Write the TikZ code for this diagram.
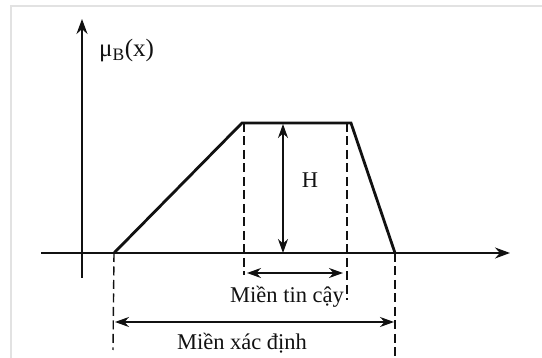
\documentclass[tikz,border=0pt]{standalone}
\usepackage{fontspec}
\setmainfont{Liberation Serif}
\usepackage{tikz}
\usetikzlibrary{arrows.meta}
\definecolor{FInk}{HTML}{111111}
\definecolor{FFrame}{HTML}{E2E2E2}

\begin{document}
\begin{tikzpicture}[x=1pt, y=-1pt,
  axis/.style={FInk, line width=1.8pt, -{Stealth[length=15pt,width=11pt]}},
  curve/.style={FInk, line width=2.8pt, line join=miter},
  guide/.style={FInk, line width=1.4pt, dash pattern=on 9pt off 4.5pt},
  span/.style={FInk, line width=1.6pt, {Stealth[length=14pt,width=10pt]}-{Stealth[length=14pt,width=10pt]}},
  lbl/.style={font=\fontsize{22.5}{26}\selectfont, text=FInk, inner sep=0pt}]
\useasboundingbox (0,0) rectangle (542,358);
% light frame of the scan
\draw[FFrame, line width=1.4pt] (11,358) -- (11,6) -- (542,6);
% axes
\coordinate (yb) at (82,278);
\coordinate (yt) at (82,19);
\coordinate (xl) at (41,253);
\coordinate (xr) at (510,253);
\draw[axis] (yb) -- (yt);
\draw[axis] (xl) -- (xr);
\node[lbl, anchor=west, font=\fontsize{25}{28}\selectfont] (mu) at (99,51) {μ\textsubscript{B}(x)};
% trapezoid
\coordinate (a) at (114,253);
\coordinate (b) at (242,123);
\coordinate (c) at (351,123);
\coordinate (d) at (395,253);
\draw[curve] (a) -- (b) -- (c) -- (d);
% dashed guides
\coordinate (g1) at (113,350);
\coordinate (g2t) at (244,123);
\coordinate (g2) at (244,275);
\coordinate (g3t) at (347,123);
\coordinate (g3) at (347,300);
\coordinate (g4) at (395,358);
\draw[guide] (a) -- (g1);
\draw[guide] (g2t) -- (g2);
\draw[guide] (g3t) -- (g3);
\draw[guide] (d) -- (g4);
% height
\coordinate (ht) at (283,124);
\coordinate (hb) at (283,253);
\draw[span] (ht) -- (hb);
\node[lbl] (H) at (310,180) {H};
% core and support
\coordinate (tl) at (247,273);
\coordinate (tr) at (343,273);
\draw[span] (tl) -- (tr);
\node[lbl] (tin) at (287,297) {Miền tin cậy};
\coordinate (sl) at (115,322);
\coordinate (sr) at (394,322);
\draw[span] (sl) -- (sr);
\node[lbl] (xac) at (242,343) {Miền xác định};
\end{tikzpicture}
\end{document}
